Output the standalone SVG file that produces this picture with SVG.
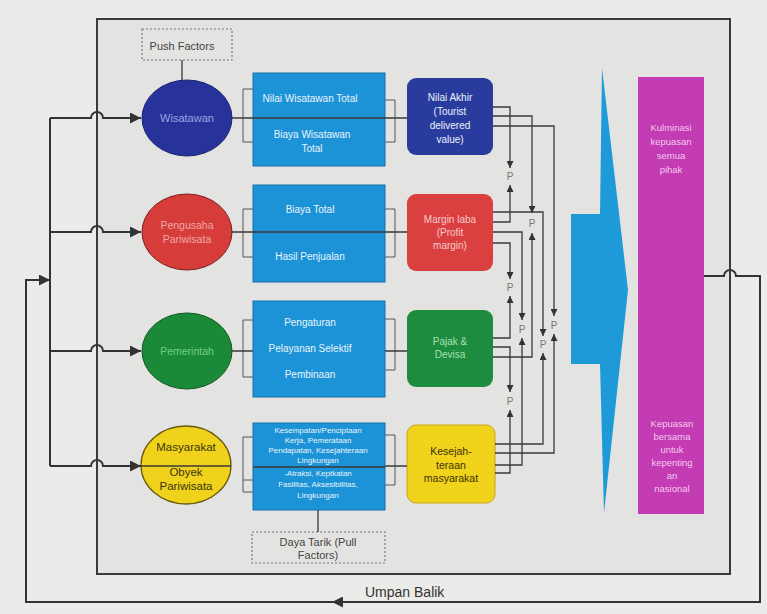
<svg xmlns="http://www.w3.org/2000/svg" width="767" height="614" viewBox="0 0 767 614">
<style>
.ln{fill:none;stroke:#3a3a3a;stroke-width:1.3}
.fb{fill:none;stroke:#333;stroke-width:2}
.br{fill:none;stroke:#555;stroke-width:1}
.t{font-family:"Liberation Sans",Arial,sans-serif;text-anchor:middle}
.w{fill:#eaf4fb;font-size:10px}
.ws{fill:#eaf4fb;font-size:8px}
.p{fill:#777;font-size:10px;font-family:"Liberation Sans",Arial,sans-serif;text-anchor:middle}
.dash{fill:none;stroke:#777;stroke-width:1.2;stroke-dasharray:2 2}
.blue{fill:#1c93d6;stroke:#176fae;stroke-width:1}
</style>
<defs>
<marker id="ah" viewBox="0 0 10 10" refX="10" refY="5" markerWidth="7" markerHeight="7" orient="auto" markerUnits="userSpaceOnUse"><path d="M0,0 L10,5 L0,10 z" fill="#333"/></marker>
<marker id="big" viewBox="0 0 10 10" refX="10" refY="5" markerWidth="14" markerHeight="11" orient="auto" markerUnits="userSpaceOnUse"><path d="M0,0 L10,5 L0,10 z" fill="#333"/></marker>
</defs>
<rect x="0" y="0" width="767" height="614" fill="#ebebe9"/>
<rect id="frame" x="97" y="19" width="633" height="555" fill="#e3e3e1" stroke="#3a3a3a" stroke-width="2"/>

<g id="push-factors">
<rect class="dash" x="142" y="29" width="90" height="31"/>
<text class="t" x="182" y="50" font-size="11" fill="#444">Push Factors</text>
</g>
<g id="wisatawan">
<ellipse cx="187" cy="118" rx="45" ry="38" fill="#27339a" stroke="#1a2270"/>
<text class="t" x="187" y="122" font-size="11" fill="#9aa6e0">Wisatawan</text>
</g>
<g id="pengusaha">
<ellipse cx="187" cy="232" rx="45" ry="38" fill="#d63c3a" stroke="#7a2020"/>
<text class="t" x="187" y="229" font-size="10.5" fill="#f0a8a8">Pengusaha</text>
<text class="t" x="187" y="243" font-size="10.5" fill="#f0a8a8">Pariwisata</text>
</g>
<g id="pemerintah">
<ellipse cx="187" cy="351" rx="45" ry="38" fill="#1b8a38" stroke="#10561f"/>
<text class="t" x="187" y="355" font-size="10.5" fill="#6fcf86">Pemerintah</text>
</g>
<g id="masyarakat">
<ellipse cx="186" cy="465" rx="45" ry="39" fill="#f0d21c" stroke="#6a5a10" stroke-width="1.3"/>
<text class="t" x="186" y="451" font-size="11.5" fill="#3a3208">Masyarakat</text>
<text class="t" x="186" y="476" font-size="11.5" fill="#3a3208">Obyek</text>
<text class="t" x="186" y="490" font-size="11.5" fill="#3a3208">Pariwisata</text>
</g>

<g id="box1">
<path class="br" d="M253,89 H243 V142 H253 M385,100 H395 V142 H385"/>
<rect class="blue" x="253" y="73" width="132" height="93"/>
<text class="t w" x="310" y="102">Nilai Wisatawan Total</text>
<text class="t w" x="312" y="138">Biaya Wisatawan</text>
<text class="t w" x="312" y="152">Total</text>
</g>
<g id="box2">
<path class="br" d="M253,209 H243 V257 H253 M385,209 H395 V257 H385"/>
<rect class="blue" x="253" y="185" width="132" height="97"/>
<text class="t w" x="310" y="213">Biaya Total</text>
<text class="t w" x="310" y="260">Hasil Penjualan</text>
</g>
<g id="box3">
<path class="br" d="M253,320 H243 V377 H253 M385,319 H395 V370 H385"/>
<rect class="blue" x="253" y="301" width="132" height="96"/>
<text class="t w" x="310" y="326">Pengaturan</text>
<text class="t w" x="310" y="352">Pelayanan Selektif</text>
<text class="t w" x="310" y="378">Pembinaan</text>
</g>
<g id="box4">
<path class="br" d="M253,437 H243 V492 H253 M243,480 H253 M385,435 H395 V485 H385"/>
<rect class="blue" x="253" y="423" width="132" height="87"/>
<text class="t ws" x="318" y="433">Kesempatan/Penciptaan</text>
<text class="t ws" x="318" y="443">Kerja, Pemerataan</text>
<text class="t ws" x="318" y="453">Pendapatan, Kesejahteraan</text>
<text class="t ws" x="318" y="463">Lingkungan</text>
<text class="t ws" x="318" y="476">-Atraksi, Keptkatan</text>
<text class="t ws" x="318" y="487">Fasilitas, Aksesibilitas,</text>
<text class="t ws" x="318" y="498">Lingkungan</text>
</g>
<g id="daya-tarik">
<rect class="dash" x="252" y="532" width="133" height="31"/>
<text class="t" x="318" y="546" font-size="11" fill="#444">Daya Tarik (Pull</text>
<text class="t" x="318" y="559" font-size="11" fill="#444">Factors)</text>
</g>

<g id="nilai-akhir">
<rect x="407" y="78" width="86" height="77" rx="9" fill="#2a3b9e"/>
<text class="t w" x="450" y="101">Nilai Akhir</text>
<text class="t w" x="450" y="115">(Tourist</text>
<text class="t w" x="450" y="129">delivered</text>
<text class="t w" x="450" y="143">value)</text>
</g>
<g id="margin-laba">
<rect x="407" y="194" width="86" height="77" rx="9" fill="#d9403f"/>
<text class="t" x="450" y="223" font-size="10" fill="#f7caca">Margin laba</text>
<text class="t" x="450" y="236" font-size="10" fill="#f7caca">(Profit</text>
<text class="t" x="450" y="249" font-size="10" fill="#f7caca">margin)</text>
</g>
<g id="pajak-devisa">
<rect x="407" y="310" width="86" height="77" rx="9" fill="#1e8c3e"/>
<text class="t" x="450" y="345" font-size="10" fill="#a8e0b4">Pajak &amp;</text>
<text class="t" x="450" y="358" font-size="10" fill="#a8e0b4">Devisa</text>
</g>
<g id="kesejahteraan">
<rect x="407" y="425" width="88" height="78" rx="9" fill="#f2d31b" stroke="#c8a814"/>
<text class="t" x="451" y="455" font-size="10.5" fill="#3a3208">Kesejah-</text>
<text class="t" x="451" y="469" font-size="10.5" fill="#3a3208">teraan</text>
<text class="t" x="451" y="482" font-size="10.5" fill="#3a3208">masyarakat</text>
</g>

<g id="big-arrow">
<polygon points="602,68 628,290 604,513 600,364 571,364 571,214 600,214" fill="#1e9ad8"/>
</g>
<g id="kulminasi">
<rect x="638" y="77" width="66" height="437" fill="#c33cb3"/>
<text class="t" x="671" y="131" font-size="9.5" fill="#f3c8ee">Kulminasi</text>
<text class="t" x="671" y="145" font-size="9.5" fill="#f3c8ee">kepuasan</text>
<text class="t" x="671" y="159" font-size="9.5" fill="#f3c8ee">semua</text>
<text class="t" x="671" y="173" font-size="9.5" fill="#f3c8ee">pihak</text>
<text class="t" x="672" y="427" font-size="9.5" fill="#f3c8ee">Kepuasan</text>
<text class="t" x="672" y="440" font-size="9.5" fill="#f3c8ee">bersama</text>
<text class="t" x="672" y="453" font-size="9.5" fill="#f3c8ee">untuk</text>
<text class="t" x="672" y="466" font-size="9.5" fill="#f3c8ee">kepenting</text>
<text class="t" x="672" y="479" font-size="9.5" fill="#f3c8ee">an</text>
<text class="t" x="672" y="492" font-size="9.5" fill="#f3c8ee">nasional</text>
</g>

<g id="connectors">
<!-- factor links -->
<path class="ln" d="M182,60 V80 M318,510 V532"/>
<!-- row lines -->
<path class="ln" d="M232,118 H407 M232,232 H407 M232,351 H253 M385,351 H407 M141,466 H231 M253,467 H385 M385,466 H407"/>
<!-- feedback distribution -->
<path class="fb" d="M50,118 V466"/>
<path class="fb" d="M50,118 H91 A6,6 0 0 1 103,118 H141" marker-end="url(#big)"/>
<path class="fb" d="M50,232 H91 A6,6 0 0 1 103,232 H141" marker-end="url(#big)"/>
<path class="fb" d="M50,351 H91 A6,6 0 0 1 103,351 H141" marker-end="url(#big)"/>
<path class="fb" d="M50,466 H91 A6,6 0 0 1 103,466 H141" marker-end="url(#big)"/>
<!-- feedback loop -->
<path class="fb" d="M704,276 H724 A6,6 0 0 1 736,276 H760 V602 H26 V280 H50" marker-end="url(#big)"/>
<path class="fb" d="M360,602 H332" marker-end="url(#big)"/>
<text x="365" y="597" font-family="'Liberation Sans',Arial,sans-serif" font-size="14" fill="#333">Umpan Balik</text>
<!-- P links column A -->
<path class="ln" d="M493,107 H510 V168" marker-end="url(#ah)"/>
<path class="ln" d="M493,222 H510 V185" marker-end="url(#ah)"/>
<path class="ln" d="M493,243 H510 V279" marker-end="url(#ah)"/>
<path class="ln" d="M493,338 H510 V296" marker-end="url(#ah)"/>
<path class="ln" d="M493,347 H510 V392" marker-end="url(#ah)"/>
<path class="ln" d="M495,473 H510 V410" marker-end="url(#ah)"/>
<!-- column C -->
<path class="ln" d="M493,116 H532 V213" marker-end="url(#ah)"/>
<path class="ln" d="M493,357 H532 V233" marker-end="url(#ah)"/>
<!-- column E -->
<path class="ln" d="M493,126 H554 V316" marker-end="url(#ah)"/>
<path class="ln" d="M495,453 H554 V334" marker-end="url(#ah)"/>
<!-- column B -->
<path class="ln" d="M493,232 H522 V320" marker-end="url(#ah)"/>
<path class="ln" d="M495,465 H522 V338" marker-end="url(#ah)"/>
<!-- column D -->
<path class="ln" d="M493,212 H543 V336" marker-end="url(#ah)"/>
<path class="ln" d="M495,444 H543 V353" marker-end="url(#ah)"/>
<text class="p" x="510" y="180">P</text>
<text class="p" x="532" y="227">P</text>
<text class="p" x="510" y="291">P</text>
<text class="p" x="522" y="333">P</text>
<text class="p" x="554" y="329">P</text>
<text class="p" x="543" y="348">P</text>
<text class="p" x="510" y="405">P</text>
</g>
</svg>
